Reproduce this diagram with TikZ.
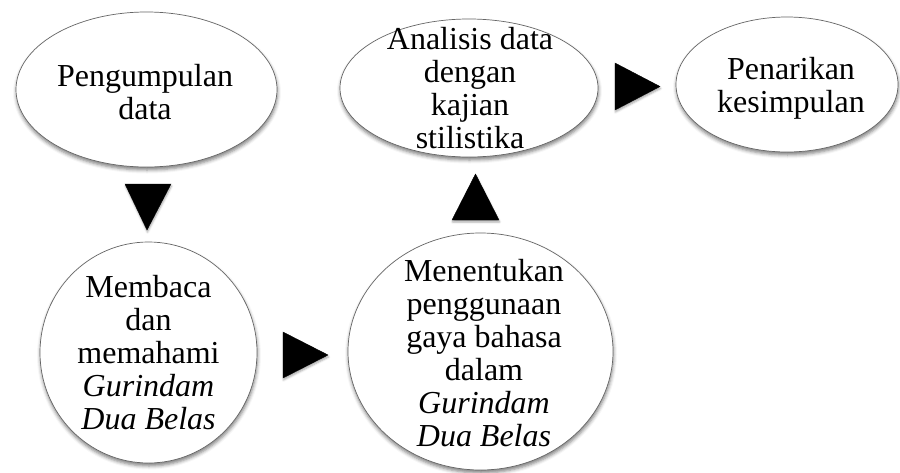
\documentclass[tikz,border=0pt]{standalone}
\usepackage{fontspec}
\setmainfont{Liberation Serif}
\usetikzlibrary{shapes.geometric,shadows.blur}
\begin{document}
\begin{tikzpicture}[x=1pt,y=-1pt,
  bubble/.style={ellipse, draw=black!60, line width=0.7pt, fill=white, inner sep=0pt,
    blur shadow={shadow xshift=0.5pt, shadow yshift=-3pt, shadow blur radius=3.5pt, shadow opacity=50}},
  txt/.style={align=center, font=\fontsize{32}{33}\selectfont, inner sep=0pt},
  tri/.style={fill=black, draw=black, line width=0.4pt,
    blur shadow={shadow xshift=0.5pt, shadow yshift=-2pt, shadow blur radius=2pt, shadow opacity=35}}
]
\useasboundingbox (0,0) rectangle (900,472);

% ellipses
\node[bubble, minimum width=261pt, minimum height=155pt] (A) at (146.5,89.5) {};
\node[bubble, minimum width=217pt, minimum height=221pt] (B) at (148.5,352.5) {};
\node[bubble, minimum width=265pt, minimum height=237pt] (C) at (480.5,351.5) {};
\node[bubble, minimum width=258pt, minimum height=138pt] (D) at (469,88) {};
\node[bubble, minimum width=222pt, minimum height=135pt] (E) at (787,84.5) {};

% texts
\node[txt] (At) at (145,91.7) {Pengumpulan\\data};
\node[txt] (Bt) at (148.5,352.4) {Membaca\\dan\\memahami\\\textit{Gurindam}\\\textit{Dua Belas}};
\node[txt] (Ct) at (484,352.8) {Menentukan\\penggunaan\\gaya bahasa\\dalam\\\textit{Gurindam}\\\textit{Dua Belas}};
\node[txt] (Dt) at (470,87.9) {Analisis data\\dengan\\kajian\\stilistika};
\node[txt] (Et) at (791,88.3) {Penarikan\\kesimpulan};

% triangle arrows
\coordinate (t1a) at (125,184); \coordinate (t1b) at (171,184); \coordinate (t1c) at (147,230);
\coordinate (t2a) at (283,332); \coordinate (t2b) at (283,378); \coordinate (t2c) at (328,355);
\coordinate (t3a) at (452,220); \coordinate (t3b) at (499,220); \coordinate (t3c) at (475.5,174);
\coordinate (t4a) at (615,63);  \coordinate (t4b) at (615,110); \coordinate (t4c) at (660,86.5);
\path[tri] (t1a) -- (t1b) -- (t1c) -- cycle;
\path[tri] (t2a) -- (t2b) -- (t2c) -- cycle;
\path[tri] (t3a) -- (t3b) -- (t3c) -- cycle;
\path[tri] (t4a) -- (t4b) -- (t4c) -- cycle;
\end{tikzpicture}
\end{document}
